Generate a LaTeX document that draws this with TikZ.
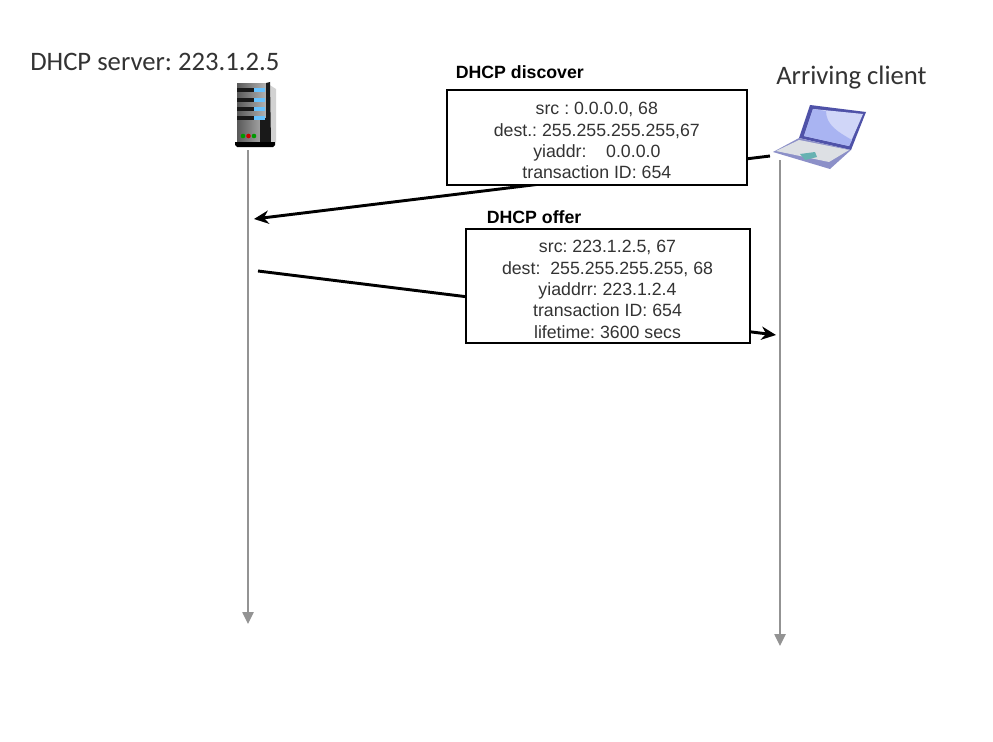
\documentclass[tikz,border=0pt]{standalone}
\usepackage{fontspec}
\setmainfont{Liberation Sans}
\newfontfamily\calib{Carlito}
\usetikzlibrary{arrows.meta,shadings}
\definecolor{txt}{HTML}{333333}
\definecolor{lapframe}{HTML}{4F52A8}
\definecolor{lapscreen}{HTML}{A9B4F2}
\definecolor{lapbase}{HTML}{8C90C8}
\definecolor{lapkeys}{HTML}{DDE0E4}
\tikzset{
  x=0.75pt,y=-0.75pt,
  msgbox/.style={draw=black,line width=1.5pt,fill=white,inner sep=0pt,text=txt,font=\fontsize{13.3pt}{16pt}\selectfont,align=center},
  msgtitle/.style={font=\bfseries\fontsize{13.3pt}{15pt}\selectfont,text=black,inner sep=0pt,anchor=west},
  hostlabel/.style={font=\calib\fontsize{20pt}{22pt}\selectfont,text=txt,inner sep=0pt,anchor=west},
  lifeline/.style={draw=gray!85,line width=1.1pt,-{Triangle[length=9pt,width=8.5pt]}},
  msgarrow/.style={draw=black,line width=2.2pt,-{Stealth[length=11pt,width=10pt]}}
}
\frenchspacing
\begin{document}
\begin{tikzpicture}
\useasboundingbox (0,0) rectangle (993,742);
\fill[white] (0,0) rectangle (993,742);
% free ends
\coordinate (serverTop) at (248,150);
\coordinate (serverEnd) at (248,624);
\coordinate (clientTop) at (780,160);
\coordinate (clientEnd) at (780,646);
\coordinate (discStart) at (770,156);
\coordinate (discEnd) at (254,219);
\coordinate (offerStart) at (258,271);
\coordinate (offerEnd) at (776,335);
% lifelines
\draw[lifeline] (serverTop) -- (serverEnd);
\draw[lifeline] (clientTop) -- (clientEnd);
% messages
\draw[msgarrow] (discStart) -- (discEnd);
\draw[msgarrow] (offerStart) -- (offerEnd);
% boxes
\node[msgbox,minimum width=225.5pt,minimum height=70.5pt,anchor=north west] (discover) at (445.5,89.5)
  {\rule{0pt}{14pt}src : 0.0.0.0, 68\\dest.: 255.255.255.255,67\\yiaddr:\ \ \ \ 0.0.0.0\\transaction ID: 654};
\node[msgbox,minimum width=213pt,minimum height=85.5pt,anchor=north west] (offer) at (464.5,227.5)
  {\rule{0pt}{15pt}src: 223.1.2.5, 67\\dest:\ \ 255.255.255.255, 68\\yiaddrr: 223.1.2.4\\transaction ID: 654\\lifetime: 3600 secs};
\node[msgtitle] (discT) at (455.5,72) {DHCP discover};
\node[msgtitle] (offT) at (486.5,217) {DHCP offer};
\node[hostlabel] (srvL) at (30,62) {DHCP server: 223.1.2.5};
\node[hostlabel] (cliL) at (776,78) {Arriving client};
% server icon
\fill[gray!35] (268,84) -- (276,89) -- (276,142) -- (268,142) -- cycle;
\fill[left color=gray!70!black,right color=gray!55] (237,84) -- (268,84) -- (268,142) -- (237,142) -- cycle;
\fill[black!90] (266,83) -- (270,82) -- (271,143) -- (266,143) -- cycle;
\fill[black!90] (260,118) rectangle (266,142);
\foreach \yy in {90,100,109,118}{
  \fill[black!90] (237,\yy-1.5) rectangle (258,\yy+2);
  \fill[blue!40!cyan!60] (254,\yy-2) rectangle (265,\yy+2);
}
\fill[black] (235,142) -- (275,142) -- (275,145) -- (273,147) -- (237,147) -- (235,145) -- cycle;
\fill[green!60!black] (243,136) circle (2.3);
\fill[red!80!black] (248.5,136) circle (2.3);
\fill[green!60!black] (254,136) circle (2.3);
% laptop icon
\fill[lapframe] (810,105) -- (866,112) -- (851,150) -- (799,138) -- cycle;
\fill[lapscreen!55!white] (813,109) -- (863,114) -- (849,146) -- (804,136) -- cycle;
\fill[lapscreen] (813,109) -- (826,111) .. controls (826,125) and (838,132) .. (852,140) -- (849,146) -- (804,136) -- cycle;
\fill[lapbase] (773,152) -- (799,138) -- (851,150) -- (830,169) -- cycle;
\fill[lapkeys] (776,151) -- (799,140) -- (849,150) -- (829,162) -- cycle;
\fill[teal!60] (800,154) -- (815,152) -- (817,157) -- (805,160) -- cycle;
\end{tikzpicture}
\end{document}
